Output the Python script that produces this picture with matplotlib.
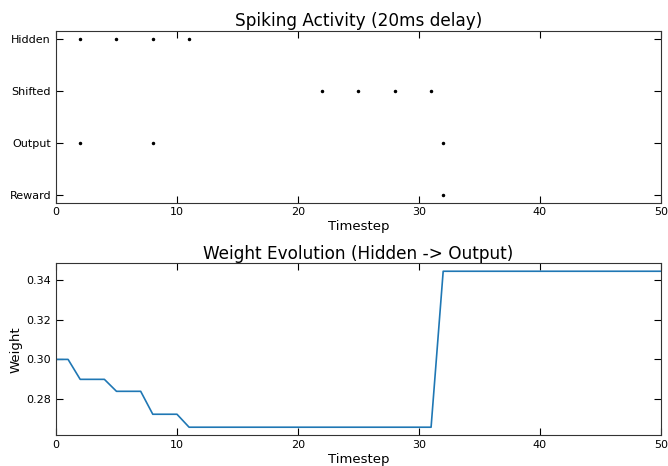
import numpy as np
import matplotlib
matplotlib.use("Agg")
import matplotlib.pyplot as plt

# neuron rows, top to bottom
neurons = ["Reward", "Output", "Shifted", "Hidden"]
hidden_spikes = [2, 5, 8, 11]
shifted_spikes = [22, 25, 28, 31]
output_spikes = [2, 8, 32]
reward_spikes = [32]

# weight trace, one value per timestep 0..50
timesteps = list(range(51))
weights = ([0.300] * 2 + [0.290] * 3 + [0.284] * 3 + [0.2725] * 3
           + [0.266] * 21 + [0.3442] * 19)

fig, (ax1, ax2) = plt.subplots(2, 1, figsize=(6.68, 4.66), dpi=100)
fig.subplots_adjust(left=0.0838, right=0.9895, top=0.9335, bottom=0.0665, hspace=0.355)

rows = {"Hidden": hidden_spikes, "Shifted": shifted_spikes,
        "Output": output_spikes, "Reward": reward_spikes}
for name, spikes in rows.items():
    y = neurons.index(name)
    ax1.plot(spikes, [y] * len(spikes), 'k.', markersize=3)
ax1.set_yticks(range(len(neurons)))
ax1.set_yticklabels(neurons)
ax1.set_ylim(-0.15, 3.15)
ax1.set_xlim(0, 50)
ax1.set_title("Spiking Activity (20ms delay)", fontsize=12.2, pad=3.5)
ax1.set_xlabel("Timestep", fontsize=9.5, labelpad=2)

ax2.plot(timesteps, weights, color='#1f77b4', linewidth=1.2)
ax2.set_xlim(0, 50)
ax2.set_yticks([0.28, 0.30, 0.32, 0.34])
ax2.set_title("Weight Evolution (Hidden -> Output)", fontsize=12.2, pad=3.5)
ax2.set_xlabel("Timestep", fontsize=9.5, labelpad=2)
ax2.set_ylabel("Weight", fontsize=9.5, labelpad=3)

for ax in (ax1, ax2):
    ax.tick_params(direction='in', top=True, right=True, labelsize=8, length=5)
    for s in ax.spines.values():
        s.set_color('#333333')

plt.savefig("out.png", dpi=100)
